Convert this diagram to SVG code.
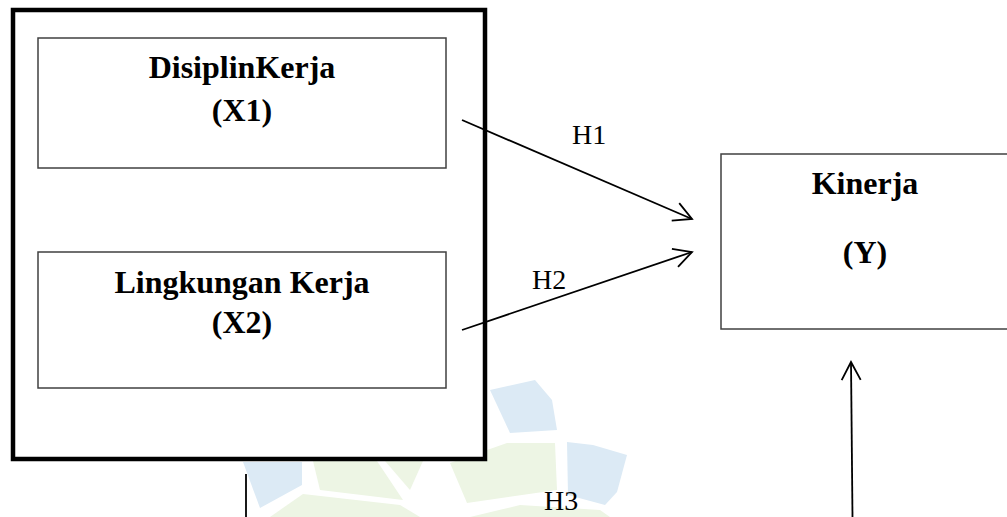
<svg xmlns="http://www.w3.org/2000/svg" width="1007" height="517" viewBox="0 0 1007 517">
  <style>
    .wm-b { fill: #dceaf5; }
    .wm-g { fill: #edf5e4; }
    .outer { fill: #ffffff; stroke: #000000; stroke-width: 4.5; }
    .box { fill: #ffffff; stroke: #404040; stroke-width: 1.5; }
    .title { font-family: "Liberation Serif", "Times New Roman", serif; font-weight: bold; font-size: 32px; fill: #000000; text-anchor: middle; }
    .lbl { font-family: "Liberation Serif", "Times New Roman", serif; font-size: 28px; fill: #000000; }
    .conn { stroke: #000000; stroke-width: 1.8; fill: none; }
  </style>
  <defs>
    <marker id="open" markerUnits="userSpaceOnUse" markerWidth="24" markerHeight="24" viewBox="-22 -12 24 24" refX="0" refY="0" orient="auto">
      <path d="M-18,-9.5 L0,0 L-18,9.5" fill="none" stroke="#000000" stroke-width="1.8"/>
    </marker>
  </defs>
  <rect width="1007" height="517" fill="#ffffff"/>
  <g id="watermark">
    <polygon class="wm-b" points="243,462 302,462 302,485 260,508"/>
    <polygon class="wm-g" points="313,461 377,461 403,500 320,490"/>
    <polygon class="wm-g" points="385,461 423,461 410,490"/>
    <polygon class="wm-g" points="270,517 303,494 400,505 420,517"/>
    <polygon class="wm-b" points="490,390 535,380 552,400 557,430 510,433"/>
    <polygon class="wm-g" points="450,463 507,443 555,443 557,490 467,503"/>
    <polygon class="wm-b" points="567,442 593,445 627,455 617,492 605,505 568,495"/>
    <polygon class="wm-g" points="470,517 520,505 600,510 610,517"/>
  </g>
  <g id="group-x">
    <rect class="outer" x="13" y="10" width="472" height="449"/>
  </g>
  <g id="node-x1">
    <rect class="box" x="38" y="38" width="408" height="130"/>
    <text class="title" x="242" y="78">DisiplinKerja</text>
    <text class="title" x="242" y="121">(X1)</text>
  </g>
  <g id="node-x2">
    <rect class="box" x="38" y="252" width="408" height="136"/>
    <text class="title" x="242" y="293">Lingkungan Kerja</text>
    <text class="title" x="242" y="333">(X2)</text>
  </g>
  <g id="node-y">
    <rect class="box" x="721" y="154" width="300" height="175"/>
    <text class="title" x="865" y="194">Kinerja</text>
    <text class="title" x="865" y="263">(Y)</text>
  </g>
  <g id="connectors">
    <line class="conn" x1="462" y1="120" x2="692" y2="219" marker-end="url(#open)"/>
    <line class="conn" x1="462" y1="330" x2="692" y2="252" marker-end="url(#open)"/>
    <line class="conn" x1="852.5" y1="517" x2="851" y2="362" marker-end="url(#open)"/>
    <line class="conn" x1="246" y1="474" x2="246" y2="517"/>
    <text class="lbl" x="572" y="144">H1</text>
    <text class="lbl" x="532" y="289">H2</text>
    <text class="lbl" x="544" y="510">H3</text>
  </g>
</svg>
